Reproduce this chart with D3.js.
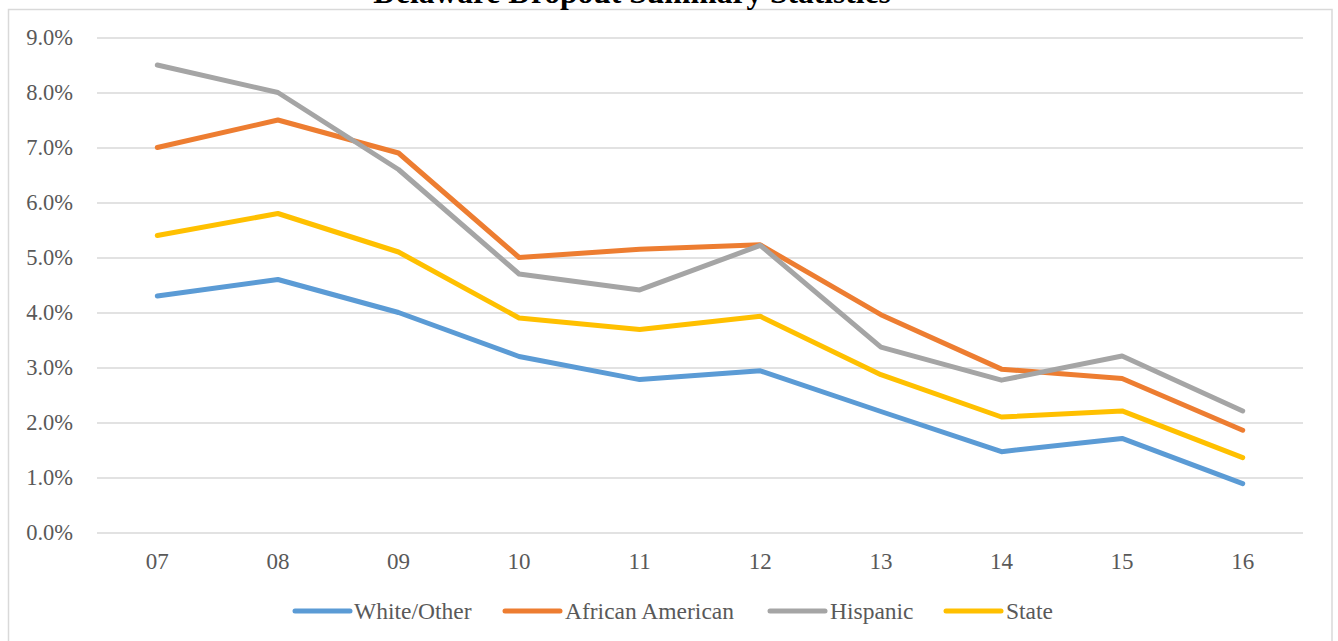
<!DOCTYPE html>
<html>
<head>
<meta charset="utf-8">
<script src="https://cdn.jsdelivr.net/npm/d3@7"></script>
<style>
  html, body { margin: 0; padding: 0; background: #fff; }
  svg { display: block; }
  text { font-family: "Liberation Serif", "Times New Roman", serif; }
</style>
</head>
<body>
<svg id="chart" width="1338" height="641"></svg>
<script>
const title = "Delaware Dropout Summary Statistics";
const categories = ["07", "08", "09", "10", "11", "12", "13", "14", "15", "16"];
const seriesNames = ["White/Other", "African American", "Hispanic", "State"];
const whiteOther      = [4.3, 4.6, 4.0, 3.2, 2.78, 2.94, 2.2, 1.47, 1.71, 0.89];
const africanAmerican = [7.0, 7.5, 6.9, 5.0, 5.15, 5.23, 3.96, 2.97, 2.80, 1.86];
const hispanic        = [8.5, 8.0, 6.6, 4.7, 4.41, 5.22, 3.37, 2.77, 3.21, 2.21];
const state           = [5.4, 5.8, 5.1, 3.9, 3.69, 3.93, 2.87, 2.10, 2.21, 1.36];
const yTicks = [0, 1, 2, 3, 4, 5, 6, 7, 8, 9];
const colors = ["#5B9BD5", "#ED7D31", "#A5A5A5", "#FFC000"];

const seriesValues = [whiteOther, africanAmerican, hispanic, state];

const svg = d3.select("#chart");
const W = 1338, H = 641;
const plot = { left: 97, right: 1303, top: 37.5, bottom: 532.5 };

// outer chart border
svg.append("rect")
  .attr("x", 8.5).attr("y", 9.5)
  .attr("width", 1332 - 8.5).attr("height", H + 10)
  .attr("fill", "#fff").attr("stroke", "#d9d9d9").attr("stroke-width", 1.5);

// title (partially cut off at top, as in the reference)
svg.append("text")
  .attr("x", 632).attr("y", 3)
  .attr("text-anchor", "middle")
  .attr("font-size", 31.5).attr("font-weight", "bold")
  .attr("fill", "#000")
  .text(title);

const x = d3.scaleBand().domain(categories).range([plot.left, plot.right]).paddingInner(0).paddingOuter(0);
const y = d3.scaleLinear().domain([0, 9]).range([plot.bottom, plot.top]);

// gridlines + y axis labels
const yAxis = d3.axisLeft(y)
  .tickValues(yTicks)
  .tickSize(-(plot.right - plot.left))
  .tickPadding(24)
  .tickFormat(d => d3.format(".1f")(d) + "%");
const gy = svg.append("g").attr("transform", `translate(${plot.left},0)`).call(yAxis);
gy.select(".domain").remove();
gy.selectAll(".tick line").attr("stroke", "#d9d9d9").attr("stroke-width", 1.5);
gy.selectAll(".tick text")
  .attr("fill", "#595959").attr("font-size", 22.5)
  .attr("font-family", "'Liberation Serif', 'Times New Roman', serif");

// x axis labels
const xAxis = d3.axisBottom(x).tickSize(0).tickPadding(20);
const gx = svg.append("g").attr("transform", `translate(0,${plot.bottom})`).call(xAxis);
gx.select(".domain").remove();
gx.selectAll(".tick text")
  .attr("fill", "#595959").attr("font-size", 23)
  .attr("font-family", "'Liberation Serif', 'Times New Roman', serif");

// lines
const line = d3.line()
  .x((d, i) => x(categories[i]) + x.bandwidth() / 2)
  .y(d => y(d));

seriesValues.forEach((vals, i) => {
  svg.append("path")
    .datum(vals)
    .attr("d", line)
    .attr("fill", "none")
    .attr("stroke", colors[i])
    .attr("stroke-width", 5)
    .attr("stroke-linejoin", "round")
    .attr("stroke-linecap", "round");
});

// legend
const legendItems = [
  { x: 295, tx: 354 },
  { x: 505, tx: 565 },
  { x: 770, tx: 830 },
  { x: 946, tx: 1006 }
];
const legendY = 611;
seriesNames.forEach((name, i) => {
  const g = svg.append("g");
  g.append("line")
    .attr("x1", legendItems[i].x).attr("x2", legendItems[i].x + 55)
    .attr("y1", legendY).attr("y2", legendY)
    .attr("stroke", colors[i]).attr("stroke-width", 5)
    .attr("stroke-linecap", "round");
  g.append("text")
    .attr("x", legendItems[i].tx).attr("y", legendY + 8)
    .attr("fill", "#595959").attr("font-size", 23.5)
    .text(name);
});
</script>
</body>
</html>
